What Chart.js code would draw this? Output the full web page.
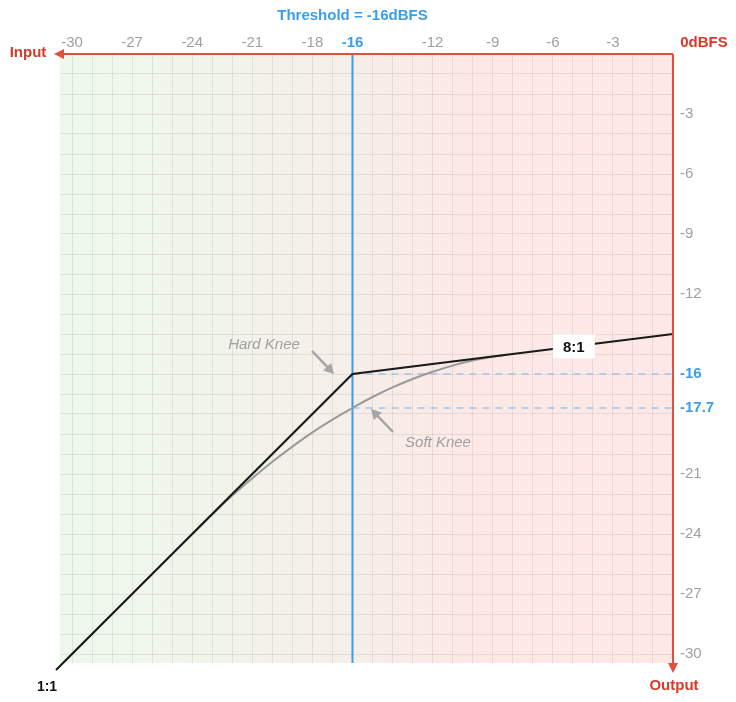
<!DOCTYPE html>
<html><head><meta charset="utf-8">
<script src="https://cdn.jsdelivr.net/npm/chart.js@4/dist/chart.umd.min.js"></script>
<style>html,body{margin:0;padding:0;background:#fff}#wrap{width:736px;height:702px;position:relative}</style>
</head><body><div id="wrap"><canvas id="c"></canvas></div>
<script>
// ---- data ----
const gridValues = [-30,-29,-28,-27,-26,-25,-24,-23,-22,-21,-20,-19,-18,-17,-16,-15,-14,-13,-12,-11,-10,-9,-8,-7,-6,-5,-4,-3,-2,-1,0];
const xTickLabels = [-30,-27,-24,-21,-18,-16,-12,-9,-6,-3];
const yTickLabels = [-3,-6,-9,-12,-16,-17.7,-21,-24,-27,-30];
const threshold = -16;
const softKneeAtThreshold = -17.7;
const hardKneeX = [-30.8, -16, 0];
const hardKneeY = [-30.8, -16, -14];
const softKneeX = [-24, -23, -22, -21, -20, -19, -18, -17, -16, -15, -14, -13, -12, -11, -10, -9, -8.3];
const softKneeY = [-24, -23.02, -22.08, -21.21, -20.39, -19.63, -18.92, -18.28, -17.7, -17.15, -16.67, -16.25, -15.89, -15.58, -15.33, -15.14, -15.04];

const RED = '#e0503e', REDTXT = '#d93a28', BLUE = '#3a9ee8', GRAY = '#a0a0a0';
const FONT = '"Helvetica Neue", Helvetica, "Liberation Sans", Arial, sans-serif';

const pts = (xs, ys) => xs.map((x, i) => ({x, y: ys[i]}));

const bgPlugin = {
  id: 'bg',
  beforeDraw(chart) {
    const {ctx, chartArea: a} = chart;
    const g = ctx.createLinearGradient(a.left, 0, a.right, 0);
    g.addColorStop(0, '#eef8ed');
    g.addColorStop(0.22, '#f0f5ea');
    g.addColorStop(0.45, '#f5efea');
    g.addColorStop(0.65, '#fce9e6');
    g.addColorStop(1, '#fde8e6');
    ctx.save(); ctx.fillStyle = g; ctx.fillRect(a.left, a.top, a.right - a.left, a.bottom - a.top); ctx.restore();
  }
};

function arrowHead(ctx, x, y, ang, len, w) {
  ctx.beginPath();
  ctx.moveTo(x, y);
  ctx.lineTo(x - len * Math.cos(ang) + w * Math.sin(ang), y - len * Math.sin(ang) - w * Math.cos(ang));
  ctx.lineTo(x - len * Math.cos(ang) - w * Math.sin(ang), y - len * Math.sin(ang) + w * Math.cos(ang));
  ctx.closePath(); ctx.fill();
}
function arrow(ctx, x1, y1, x2, y2, color, lw) {
  ctx.strokeStyle = color; ctx.fillStyle = color; ctx.lineWidth = lw;
  const ang = Math.atan2(y2 - y1, x2 - x1);
  ctx.beginPath(); ctx.moveTo(x1, y1); ctx.lineTo(x2 - 6 * Math.cos(ang), y2 - 6 * Math.sin(ang)); ctx.stroke();
  arrowHead(ctx, x2, y2, ang, 10, 5.5);
}

const annoPlugin = {
  id: 'anno',
  afterDraw(chart) {
    const {ctx, chartArea: a} = chart;
    const xs = chart.scales.x, ys = chart.scales.y;
    ctx.save();
    // red axes
    ctx.strokeStyle = RED; ctx.fillStyle = RED; ctx.lineWidth = 2;
    ctx.beginPath(); ctx.moveTo(a.right, a.top); ctx.lineTo(a.left - 2, a.top); ctx.stroke();
    arrowHead(ctx, a.left - 6, a.top, Math.PI, 10, 5);
    ctx.beginPath(); ctx.moveTo(a.right, a.top); ctx.lineTo(a.right, a.bottom + 4); ctx.stroke();
    arrowHead(ctx, a.right, a.bottom + 10, Math.PI / 2, 10, 5);
    // axis titles
    ctx.font = 'bold 15px ' + FONT; ctx.textBaseline = 'middle'; ctx.textAlign = 'center';
    ctx.fillStyle = REDTXT;
    ctx.fillText('Input', 28, a.top - 1);
    ctx.fillText('0dBFS', 704, a.top - 11);
    ctx.fillText('Output', a.right + 1, 686);
    ctx.fillStyle = BLUE;
    ctx.fillText('Threshold = ' + threshold + 'dBFS', xs.getPixelForValue(threshold), 16);
    // ratio labels
    ctx.fillStyle = '#111'; ctx.font = 'bold 14px ' + FONT;
    ctx.fillText('1:1', 47, 687);
    const rx = xs.getPixelForValue(-4.95), ry = ys.getPixelForValue(-14.62);
    ctx.fillStyle = '#fff'; ctx.fillRect(rx - 21, ry - 12, 42, 24);
    ctx.fillStyle = '#111'; ctx.font = 'bold 15px ' + FONT;
    ctx.fillText('8:1', rx, ry + 1);
    // knee annotations
    ctx.font = 'italic 15px ' + FONT; ctx.fillStyle = GRAY;
    ctx.fillText('Hard Knee', 264, 345);
    ctx.fillText('Soft Knee', 438, 443);
    arrow(ctx, 312, 351, 334, 374, '#a5a5a5', 2.5);
    arrow(ctx, 393, 432, 371, 409, '#a5a5a5', 2.5);
    ctx.restore();
  }
};

const chart = new Chart(document.getElementById('c'), {
  type: 'scatter',
  data: {
    datasets: [
      {label: 'Hard knee', data: pts(hardKneeX, hardKneeY), showLine: true, borderColor: '#1a1a1a', borderWidth: 2.2, pointRadius: 0, clip: false, order: 0},
      {label: 'Soft knee', data: pts(softKneeX, softKneeY), showLine: true, borderColor: '#9a9a9a', borderWidth: 2, pointRadius: 0, tension: 0.4, order: 1},
      {label: 'Threshold', data: [{x: threshold, y: 0}, {x: threshold, y: -30.45}], showLine: true, borderColor: BLUE, borderWidth: 2, pointRadius: 0, order: 2},
      {label: 'Hard level', data: [{x: threshold, y: threshold}, {x: 0, y: threshold}], showLine: true, borderColor: '#9fc4ee', borderWidth: 1.5, borderDash: [7, 6], pointRadius: 0, order: 3},
      {label: 'Soft level', data: [{x: threshold, y: softKneeAtThreshold}, {x: 0, y: softKneeAtThreshold}], showLine: true, borderColor: '#9fc4ee', borderWidth: 1.5, borderDash: [7, 6], pointRadius: 0, order: 3}
    ]
  },
  options: {
    responsive: true, maintainAspectRatio: false, animation: false,
    layout: {padding: {left: 60, top: 0, right: 0, bottom: 39}},
    plugins: {legend: {display: false}, tooltip: {enabled: false}},
    scales: {
      x: {
        type: 'linear', position: 'top', min: -30.6, max: 0,
        afterBuildTicks: s => { s.ticks = gridValues.map(v => ({value: v})); },
        afterFit: s => { s.height = 54; },
        border: {display: false},
        grid: {color: 'rgba(150,140,130,0.18)', lineWidth: 1, drawTicks: false},
        ticks: {
          autoSkip: false, maxRotation: 0, padding: 2,
          callback: v => xTickLabels.includes(v) ? String(v) : '',
          color: c => c.tick && c.tick.value === threshold ? BLUE : GRAY,
          font: c => (c.tick && c.tick.value === threshold) ? {family: FONT, size: 15, weight: 'bold'} : {family: FONT, size: 15}
        }
      },
      y: {
        type: 'linear', position: 'right', min: -30.45, max: 0,
        afterBuildTicks: s => { s.ticks = gridValues.concat([softKneeAtThreshold]).sort((a, b) => a - b).map(v => ({value: v})); },
        afterFit: s => { s.width = 63; },
        border: {display: false},
        grid: {color: c => (c.tick && c.tick.value === softKneeAtThreshold) ? 'rgba(0,0,0,0)' : 'rgba(150,140,130,0.18)', lineWidth: 1, drawTicks: false},
        ticks: {
          autoSkip: false, padding: 7,
          callback: v => yTickLabels.includes(v) ? String(v) : '',
          color: c => c.tick && (c.tick.value === threshold || c.tick.value === softKneeAtThreshold) ? BLUE : GRAY,
          font: c => (c.tick && (c.tick.value === threshold || c.tick.value === softKneeAtThreshold)) ? {family: FONT, size: 15, weight: 'bold'} : {family: FONT, size: 15}
        }
      }
    }
  },
  plugins: [bgPlugin, annoPlugin]
});
</script>
</body></html>
